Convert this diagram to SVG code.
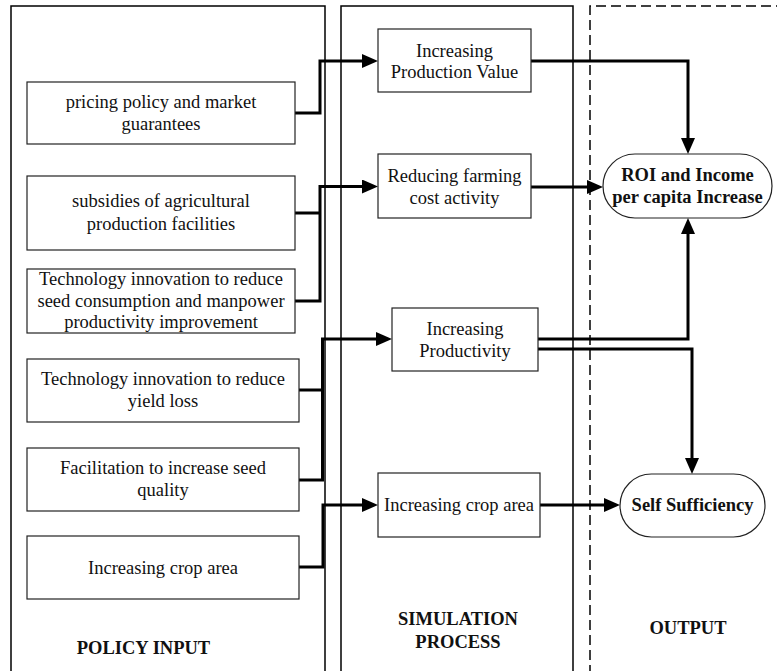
<svg xmlns="http://www.w3.org/2000/svg" width="777" height="671" viewBox="0 0 777 671">
  <style>
    .panel { fill: none; stroke: #000; stroke-width: 1.5; }
    .dash { fill: none; stroke: #000; stroke-width: 1.5; stroke-dasharray: 10 5; }
    .box { fill: #fff; stroke: #222; stroke-width: 1.2; }
    .oval { fill: #fff; stroke: #222; stroke-width: 1.2; }
    .t { font-family: "Liberation Serif", "Times New Roman", serif; font-size: 18.5px; fill: #111; text-anchor: middle; }
    .b { font-weight: bold; }
    .wire { fill: none; stroke: #000; stroke-width: 3; stroke-linejoin: miter; }
  </style>
  <defs>
    <marker id="arrow" markerUnits="userSpaceOnUse" markerWidth="16" markerHeight="14" viewBox="0 0 16 14" refX="6" refY="7" orient="auto">
      <path d="M0,0 L16,7 L0,14 z" fill="#000"/>
    </marker>
  </defs>
  <rect width="777" height="671" fill="#fff"/>

  <!-- column frames -->
  <g id="panels">
    <path class="panel" d="M11,675 V6 H325 V675"/>
    <path class="panel" d="M341,675 V6 H573 V675"/>
    <path class="dash" d="M590,675 V6 H780"/>
    <text class="t b" x="143.5" y="654">POLICY INPUT</text>
    <text class="t b" x="458" y="625">SIMULATION</text>
    <text class="t b" x="458" y="648">PROCESS</text>
    <text class="t b" x="688" y="634">OUTPUT</text>
  </g>

  <!-- connectors -->
  <g id="connectors">
    <path class="wire" d="M295,113 H320 V61 H368" marker-end="url(#arrow)"/>
    <path class="wire" d="M295,213 H320 M295,301 H320 V186.5 H368" marker-end="url(#arrow)"/>
    <path class="wire" d="M299,390 H322.5 M299,480 H322.5 V339 H382" marker-end="url(#arrow)"/>
    <path class="wire" d="M299,567 H323 V505 H368" marker-end="url(#arrow)"/>
    <path class="wire" d="M531,61 H688 V144" marker-end="url(#arrow)"/>
    <path class="wire" d="M531,187 H593" marker-end="url(#arrow)"/>
    <path class="wire" d="M538,339 H688 V228" marker-end="url(#arrow)"/>
    <path class="wire" d="M538,349 H692 V464" marker-end="url(#arrow)"/>
    <path class="wire" d="M540,505 H610" marker-end="url(#arrow)"/>
  </g>

  <!-- policy inputs -->
  <g id="pricing">
    <rect class="box" x="27" y="82" width="268" height="62"/>
    <text class="t" x="161" y="108">pricing policy and market</text>
    <text class="t" x="161" y="130">guarantees</text>
  </g>
  <g id="subsidies">
    <rect class="box" x="27" y="176" width="268" height="74"/>
    <text class="t" x="161" y="207">subsidies of agricultural</text>
    <text class="t" x="161" y="230">production facilities</text>
  </g>
  <g id="tech-seed">
    <rect class="box" x="27" y="269" width="268" height="64"/>
    <text class="t" x="161" y="285">Technology innovation to reduce</text>
    <text class="t" x="161" y="307">seed consumption and manpower</text>
    <text class="t" x="161" y="328">productivity improvement</text>
  </g>
  <g id="tech-yield">
    <rect class="box" x="27" y="359" width="272" height="63"/>
    <text class="t" x="163" y="385">Technology innovation to reduce</text>
    <text class="t" x="163" y="407">yield loss</text>
  </g>
  <g id="seed-quality">
    <rect class="box" x="27" y="448" width="272" height="63"/>
    <text class="t" x="163" y="474">Facilitation to increase seed</text>
    <text class="t" x="163" y="496">quality</text>
  </g>
  <g id="crop-area-input">
    <rect class="box" x="27" y="536" width="272" height="63"/>
    <text class="t" x="163" y="573.5">Increasing crop area</text>
  </g>

  <!-- simulation steps -->
  <g id="production-value">
    <rect class="box" x="378" y="29" width="153" height="63"/>
    <text class="t" x="454.5" y="57">Increasing</text>
    <text class="t" x="454.5" y="78">Production Value</text>
  </g>
  <g id="farming-cost">
    <rect class="box" x="378" y="154" width="153" height="64"/>
    <text class="t" x="454.5" y="182">Reducing farming</text>
    <text class="t" x="454.5" y="204">cost activity</text>
  </g>
  <g id="productivity">
    <rect class="box" x="392" y="308" width="146" height="63"/>
    <text class="t" x="465" y="335">Increasing</text>
    <text class="t" x="465" y="357">Productivity</text>
  </g>
  <g id="crop-area-sim">
    <rect class="box" x="378" y="473" width="162" height="64"/>
    <text class="t" x="459" y="511">Increasing crop area</text>
  </g>

  <!-- outputs -->
  <g id="roi-income">
    <rect class="oval" x="603" y="154" width="169" height="64" rx="32" ry="32"/>
    <text class="t b" x="687.5" y="181">ROI and Income</text>
    <text class="t b" x="687.5" y="203">per capita Increase</text>
  </g>
  <g id="self-sufficiency">
    <rect class="oval" x="620" y="474" width="145" height="63" rx="31.5" ry="31.5"/>
    <text class="t b" x="692.5" y="511">Self Sufficiency</text>
  </g>
</svg>
